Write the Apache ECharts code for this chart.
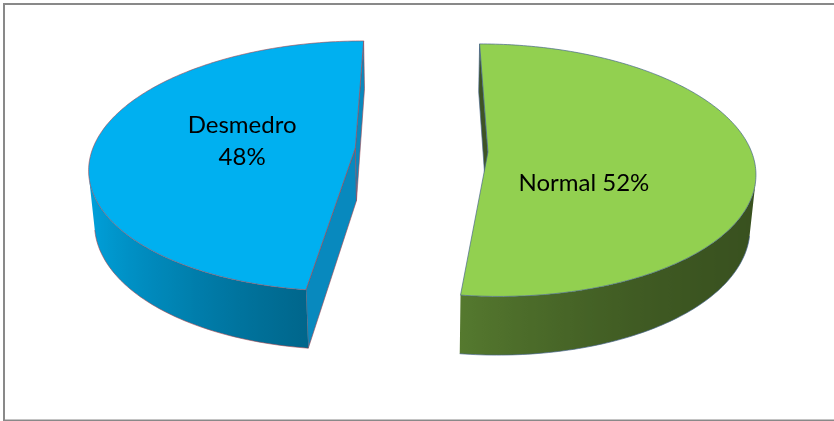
<!DOCTYPE html>
<html>
<head>
<meta charset="utf-8">
<script src="https://cdn.jsdelivr.net/npm/echarts@6/dist/echarts.min.js"></script>
<style>
  html, body { margin: 0; padding: 0; background: #ffffff; }
  #chart { width: 834px; height: 421px; }
</style>
</head>
<body>
<div id="chart"></div>
<script>
// Slices, clockwise from 12 o'clock
const categories = ['Normal', 'Desmedro'];
const shares = [52, 48];

// Per-slice appearance
const topColors = ['#92D050', '#00B0F0'];
const cutColors = ['#3E5424', '#0889BE'];
const edgeColors = ['rgba(70,100,140,0.85)', 'rgba(165,70,80,0.75)'];
const labelSeparators = [' ', '\n'];
const labelSpots = [{ t: 0.67, r: 0.42 }, { t: 0.52, r: 0.44 }];

// Camera / projection of the tilted pie
const VIEW = { cx: 421.5, cy: 150, scale: 263, tilt: 27.9, dist: 6.14, depth: 0.231, explode: 0.2527 };

const RAD = Math.PI / 180;
const total = shares.reduce((a, b) => a + b, 0);
const starts = [];
let acc = 0;
shares.forEach(v => { starts.push(acc / total * 360); acc += v; });

const sT = Math.sin(VIEW.tilt * RAD), cT = Math.cos(VIEW.tilt * RAD);
const camera = [0, VIEW.dist * sT, -VIEW.dist * cT];

function project(p) {
  const yc = p[1] * cT + p[2] * sT;
  const zc = p[2] * cT - p[1] * sT;
  const k = VIEW.dist / (VIEW.dist + zc);
  return [VIEW.cx + VIEW.scale * p[0] * k, VIEW.cy - VIEW.scale * yc * k, zc];
}

function shadeHex(hex, f) {
  const n = parseInt(hex.slice(1), 16);
  const r = Math.round(((n >> 16) & 255) * f);
  const g = Math.round(((n >> 8) & 255) * f);
  const b = Math.round((n & 255) * f);
  return 'rgb(' + r + ',' + g + ',' + b + ')';
}

// brightness of the rim wall depending on its facing angle
function wallLight(theta) {
  const c = (1 + Math.cos((theta - 265) * RAD)) / 2;
  return 0.39 + 0.52 * c * c;
}

function facesCamera(point, normal) {
  const v = [camera[0] - point[0], camera[1] - point[1], camera[2] - point[2]];
  return v[0] * normal[0] + v[1] * normal[1] + v[2] * normal[2] > 0;
}

function renderSlice(params, api) {
  const i = params.dataIndex;
  const value = api.value(0);
  const a0 = starts[i];
  const a1 = a0 + value / total * 360;
  const mid = (a0 + a1) / 2;
  const ox = VIEW.explode * Math.sin(mid * RAD);
  const oz = VIEW.explode * Math.cos(mid * RAD);
  const h = VIEW.depth;
  const rim = (th, y) => [ox + Math.sin(th * RAD), y, oz + Math.cos(th * RAD)];
  const center = y => [ox, y, oz];
  const pts = arr => arr.map(p => { const q = project(p); return [q[0], q[1]]; });
  const depthOf = arr => arr.reduce((s, p) => s + project(p)[2], 0) / arr.length;

  const sides = [];

  // outer rim wall: collect the angle runs that face the camera
  const steps = Math.ceil((a1 - a0) / 1);
  const runs = [];
  let run = null;
  for (let j = 0; j < steps; j++) {
    const t0 = a0 + (a1 - a0) * j / steps;
    const t1 = a0 + (a1 - a0) * (j + 1) / steps;
    const tm = (t0 + t1) / 2;
    const n = [Math.sin(tm * RAD), 0, Math.cos(tm * RAD)];
    if (facesCamera(rim(tm, -h / 2), n)) {
      if (!run) { run = [t0]; runs.push(run); }
      run.push(t1);
    } else {
      run = null;
    }
  }
  const wallEdges = [];
  runs.forEach(r => {
    const top = r.map(t => rim(t, 0));
    const bottom = r.map(t => rim(t, -h));
    const outline = top.concat(bottom.slice().reverse());
    const xs = r.map(t => project(rim(t, -h / 2))[0]);
    const xmin = Math.min.apply(null, xs), xmax = Math.max.apply(null, xs);
    const span = Math.max(1, xmax - xmin);
    const stops = r.map((t, k) => ({
      offset: Math.min(1, Math.max(0, (xs[k] - xmin) / span)),
      color: shadeHex(topColors[i], wallLight(t))
    })).sort((p, q) => p.offset - q.offset);
    sides.push({
      z: depthOf(outline),
      shape: pts(outline),
      fill: { type: 'linear', x: xmin, y: 0, x2: xmin + span, y2: 0, global: true, colorStops: stops },
      stroke: null, lw: 0
    });
    wallEdges.push(bottom);
  });

  // the two radial cut faces
  const cuts = [
    { th: a0, n: [-Math.cos(a0 * RAD), 0, Math.sin(a0 * RAD)] },
    { th: a1, n: [Math.cos(a1 * RAD), 0, -Math.sin(a1 * RAD)] }
  ];
  cuts.forEach(c => {
    const face = [center(0), rim(c.th, 0), rim(c.th, -h), center(-h)];
    const pm = [ox + 0.5 * Math.sin(c.th * RAD), -h / 2, oz + 0.5 * Math.cos(c.th * RAD)];
    if (facesCamera(pm, c.n)) {
      sides.push({ z: depthOf(face), shape: pts(face), fill: cutColors[i], stroke: edgeColors[i], lw: 0.8 });
    }
  });

  sides.sort((p, q) => q.z - p.z);
  const children = sides.map(s => ({
    type: 'polygon',
    shape: { points: s.shape },
    style: { fill: s.fill, stroke: s.stroke, lineWidth: s.lw }
  }));

  wallEdges.forEach(e => {
    children.push({
      type: 'polyline',
      shape: { points: pts(e) },
      style: { fill: null, stroke: edgeColors[i], lineWidth: 0.8 }
    });
  });

  // top face
  const topPts = [center(0)];
  const tsteps = Math.ceil((a1 - a0) / 1);
  for (let j = 0; j <= tsteps; j++) topPts.push(rim(a0 + (a1 - a0) * j / tsteps, 0));
  children.push({
    type: 'polygon',
    shape: { points: pts(topPts) },
    style: { fill: topColors[i], stroke: edgeColors[i], lineWidth: 0.8 }
  });

  // data label
  const spot = labelSpots[i];
  const lt = a0 + (a1 - a0) * spot.t;
  const lp = project([ox + spot.r * Math.sin(lt * RAD), 0, oz + spot.r * Math.cos(lt * RAD)]);
  children.push({
    type: 'text',
    style: {
      text: categories[i] + labelSeparators[i] + shares[i] + '%',
      x: lp[0], y: lp[1],
      align: 'center', verticalAlign: 'middle',
      fontFamily: 'Lato', fontSize: 24, lineHeight: 32,
      fill: '#000000'
    }
  });

  return { type: 'group', children: children };
}

const chart = echarts.init(document.getElementById('chart'), null, { renderer: 'canvas' });
chart.setOption({
  animation: false,
  backgroundColor: '#ffffff',
  graphic: [{
    type: 'rect',
    silent: true,
    shape: { x: 4, y: 4, width: 900, height: 416.5 },
    style: { fill: 'none', stroke: '#898989', lineWidth: 2 }
  }],
  series: [{
    type: 'custom',
    coordinateSystem: 'none',
    silent: true,
    data: shares.map((v, i) => ({ name: categories[i], value: [v, i] })),
    renderItem: renderSlice
  }]
});
</script>
</body>
</html>
